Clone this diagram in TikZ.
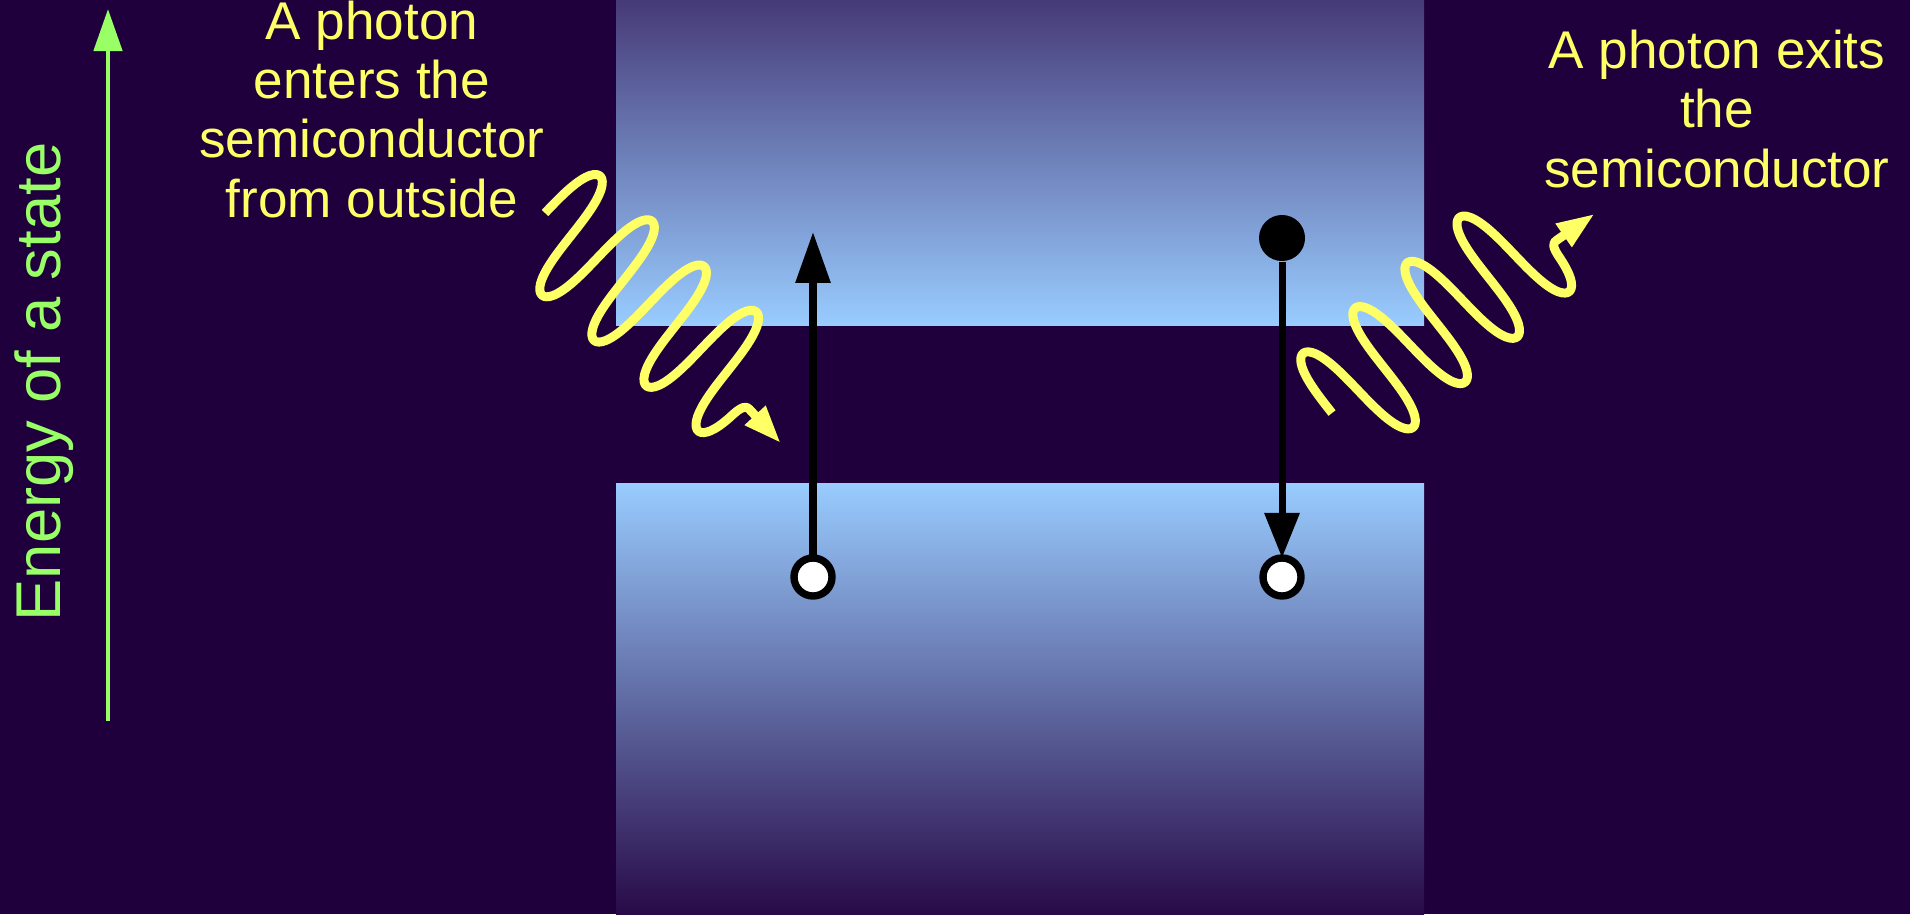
\documentclass[tikz,border=0pt]{standalone}
\usepackage{fontspec}
\setmainfont{Liberation Sans}
\usetikzlibrary{arrows.meta}

\definecolor{bgpurple}{RGB}{32,0,60}
\definecolor{bandlight}{RGB}{153,204,255}
\definecolor{banddark}{RGB}{70,58,120}
\definecolor{banddeep}{RGB}{40,10,72}
\definecolor{photonyellow}{RGB}{255,255,102}
\definecolor{energygreen}{RGB}{153,255,102}

\begin{document}
\begin{tikzpicture}[
  x=0.01cm, y=0.01cm,
  photon/.style={draw=photonyellow, line width=2.55pt, line join=round, -{Triangle[length=10.8pt, width=7.4pt]}},
  caption/.style={text=photonyellow, font=\fontsize{15.1}{16.8}\selectfont, align=center, inner sep=0pt},
  hole/.style={circle, draw=black, fill=white, line width=2.1pt, minimum size=0.38cm, inner sep=0pt, outer sep=0pt},
  electron/.style={circle, fill=black, minimum size=0.46cm, inner sep=0pt},
  transition/.style={line width=2pt, -{Triangle[length=#1, width=9.6pt]}},
  transition/.default=13.6pt
]
\useasboundingbox (0,0) rectangle (1910,914);
\fill[bgpurple] (0,0) rectangle (1910,914);

% bands
\shade[top color=banddark, bottom color=bandlight] (616,589) rectangle (1424,914);
\shade[top color=bandlight, bottom color=banddeep] (616,0) rectangle (1424,431);

% energy axis
\coordinate (ebottom) at (108,193);
\coordinate (etop) at (108,905);
\draw[energygreen, line width=1.35pt, -{Triangle[length=12pt, width=8pt]}] (ebottom) -- (etop);
\node[text=energygreen, font=\fontsize{18}{21.6}\selectfont, rotate=90, anchor=base, inner sep=0pt] (energy) at (60,532) {Energy of a state};

% incoming photon
\begin{scope}[shift={(545,701)}, rotate=-41]
  \draw[photon] plot[domain=0:270, samples=200, smooth] ({\x-4*sin(2*\x/69*360)},{64*sin(\x/69*360)})
    .. controls (275,-17) and (278,-13) .. (283,-14) -- (329,-19);
\end{scope}

% outgoing photon
\begin{scope}[shift={(1332,501)}, rotate=41]
  \draw[photon] plot[domain=0:270, samples=200, smooth] ({\x-4*sin(2*\x/69*360)},{64*sin(\x/69*360)})
    .. controls (275,-19) and (278,-16) .. (283,-17) -- (329,-22);
\end{scope}

% absorption and emission
\node[hole] (lowhole) at (813,337) {};
\coordinate (uptip) at (813,682);
\draw[transition=14.5pt] (lowhole) -- (uptip);
\node[electron] (upelec) at (1282,676) {};
\node[hole] (rhole) at (1282,337) {};
\draw[transition=12.8pt] (upelec) -- (rhole);

% captions
\node[caption, anchor=base] (enters) at (372,697) {A photon\\enters the\\semiconductor\\from outside};
\node[caption, anchor=base] (exits) at (1717,727) {A photon exits\\the\\semiconductor};
\end{tikzpicture}
\end{document}
